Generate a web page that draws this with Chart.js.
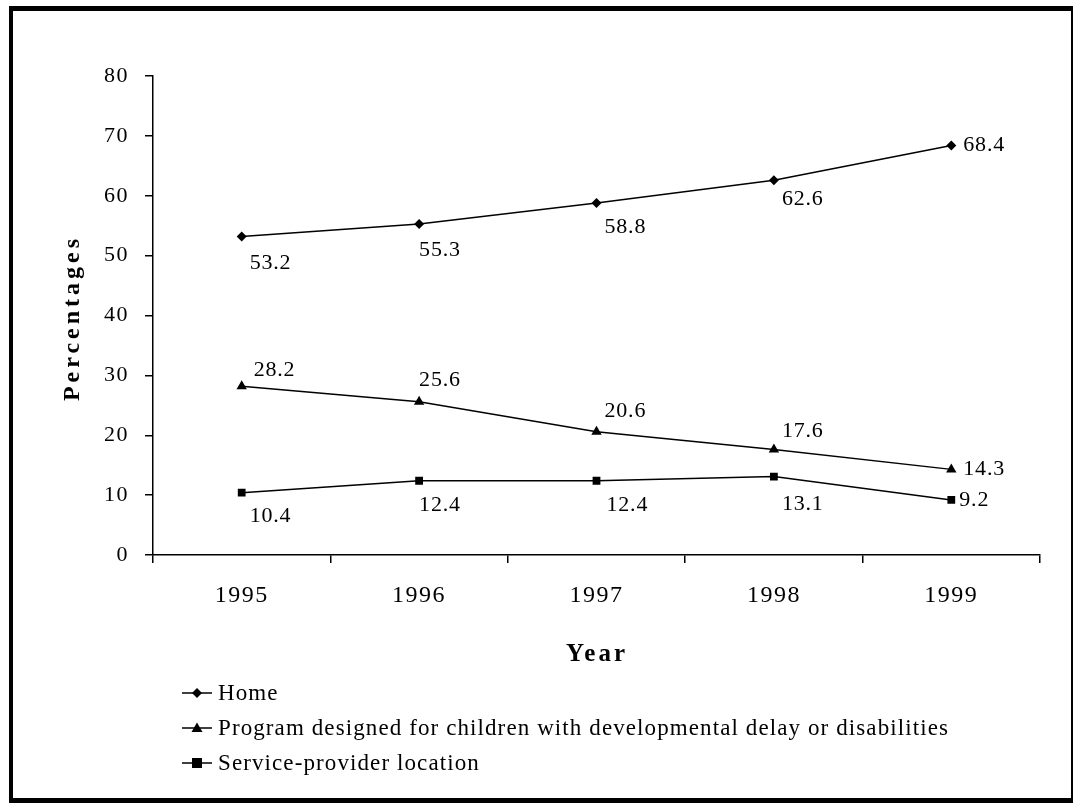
<!DOCTYPE html>
<html lang="en">
  <head>
    <meta charset="UTF-8" />
    <title>Percentages by Year</title>
    <script src="https://cdn.jsdelivr.net/npm/chart.js@4"></script>
    <style>
      body { margin: 0; background: #fff; }
      #frame {
        position: absolute; left: 9px; top: 6px; width: 1064px; height: 797px;
        box-sizing: border-box; border-style: solid; border-color: #000;
        border-width: 5px 2px 5px 4px;
      }
      #myChart { position: absolute; left: 0; top: 0; }
    </style>
  </head>
  <body>
    <div id="frame"></div>
    <canvas id="myChart" width="1077" height="811"></canvas>

    <script>
      const years = ['1995', '1996', '1997', '1998', '1999'];
      const home = [53.2, 55.3, 58.8, 62.6, 68.4];
      const program = [28.2, 25.6, 20.6, 17.6, 14.3];
      const provider = [10.4, 12.4, 12.4, 13.1, 9.2];
      const yTicks = [0, 10, 20, 30, 40, 50, 60, 70, 80];
      const seriesNames = [
        'Home',
        'Program designed for children with developmental delay or disabilities',
        'Service-provider location'
      ];

      const serif = "'Liberation Serif', 'Times New Roman', serif";

      // where each value label sits relative to its point
      const labelOffsets = [
        [[8, 27], [0, 26], [8, 24], [8, 19], [12, 0]],
        [[12, -16], [0, -22], [8, -20], [8, -18], [12, 0]],
        [[8, 23], [0, 24], [10, 24], [8, 28], [8, 0]]
      ];

      function drawMarker(ctx, style, x, y) {
        ctx.beginPath();
        if (style === 'rectRot') {
          ctx.moveTo(x, y - 5); ctx.lineTo(x + 5, y);
          ctx.lineTo(x, y + 5); ctx.lineTo(x - 5, y);
        } else if (style === 'triangle') {
          ctx.moveTo(x, y - 5.5); ctx.lineTo(x + 5.5, y + 4); ctx.lineTo(x - 5.5, y + 4);
        } else {
          ctx.rect(x - 5, y - 5, 10, 10);
        }
        ctx.closePath();
        ctx.fill();
      }

      const extras = {
        id: 'extras',
        beforeDraw(chart) {
          chart.ctx.letterSpacing = '1.5px';
        },
        afterDatasetsDraw(chart) {
          const ctx = chart.ctx;
          ctx.save();
          ctx.fillStyle = '#000';
          ctx.font = '22px ' + serif;
          ctx.letterSpacing = '0.8px';
          ctx.textBaseline = 'middle';
          ctx.textAlign = 'left';
          chart.data.datasets.forEach((ds, i) => {
            chart.getDatasetMeta(i).data.forEach((pt, j) => {
              const off = labelOffsets[i][j];
              ctx.fillText(ds.data[j].toFixed(1), pt.x + off[0], pt.y + off[1]);
            });
          });
          ctx.restore();
        },
        afterDraw(chart) {
          const ctx = chart.ctx;
          ctx.save();
          ctx.fillStyle = '#000';
          ctx.strokeStyle = '#000';
          // axis titles
          ctx.font = 'bold 24px ' + serif;
          ctx.letterSpacing = '4px';
          ctx.textAlign = 'center';
          ctx.textBaseline = 'middle';
          ctx.save();
          ctx.translate(73, 318);
          ctx.rotate(-Math.PI / 2);
          ctx.fillText('Percentages', 0, 0);
          ctx.restore();
          ctx.font = 'bold 25px ' + serif;
          ctx.letterSpacing = '3px';
          ctx.fillText('Year', 597, 655);

          // legend
          ctx.font = '23px ' + serif;
          ctx.letterSpacing = '1.1px';
          ctx.textAlign = 'left';
          chart.data.datasets.forEach((ds, i) => {
            const y = 693 + i * 35;
            ctx.lineWidth = 1.5;
            ctx.beginPath();
            ctx.moveTo(182, y);
            ctx.lineTo(212, y);
            ctx.stroke();
            drawMarker(ctx, ds.pointStyle, 197, y);
            ctx.fillText(ds.label, 218, y + 1);
          });
          ctx.restore();
        }
      };

      function makeSet(label, data, style, radius) {
        return {
          label: label,
          data: data,
          borderColor: '#000',
          backgroundColor: '#000',
          borderWidth: 1.5,
          pointStyle: style,
          pointRadius: radius,
          pointBorderWidth: 0,
          tension: 0
        };
      }

      const ctx = document.getElementById('myChart').getContext('2d');
      const myChart = new Chart(ctx, {
        type: 'line',
        data: {
          labels: years,
          datasets: [
            makeSet(seriesNames[0], home, 'rectRot', 5),
            makeSet(seriesNames[1], program, 'triangle', 6),
            makeSet(seriesNames[2], provider, 'rect', 5.5)
          ]
        },
        plugins: [extras],
        options: {
          responsive: false,
          animation: false,
          layout: { padding: { left: 0, right: 37, top: 76, bottom: 0 } },
          plugins: { legend: { display: false }, tooltip: { enabled: false } },
          scales: {
            x: {
              offset: true,
              grid: { offset: true, drawOnChartArea: false, color: '#000', tickLength: 8, lineWidth: 1.5 },
              border: { color: '#000', width: 1.5 },
              ticks: { color: '#000', padding: 18, font: { family: serif, size: 24 } },
              afterFit(scale) { scale.height = 256; scale.paddingLeft = 0; scale.paddingRight = 0; }
            },
            y: {
              min: 0,
              max: 80,
              afterBuildTicks(scale) { scale.ticks = yTicks.map(v => ({ value: v })); },
              grid: { drawOnChartArea: false, color: '#000', tickLength: 8, lineWidth: 1.5 },
              border: { color: '#000', width: 1.5 },
              ticks: { color: '#000', padding: 16, font: { family: serif, size: 22 } },
              afterFit(scale) { scale.width = 153; scale.paddingTop = 0; scale.paddingBottom = 0; }
            }
          }
        }
      });
    </script>
  </body>
</html>
